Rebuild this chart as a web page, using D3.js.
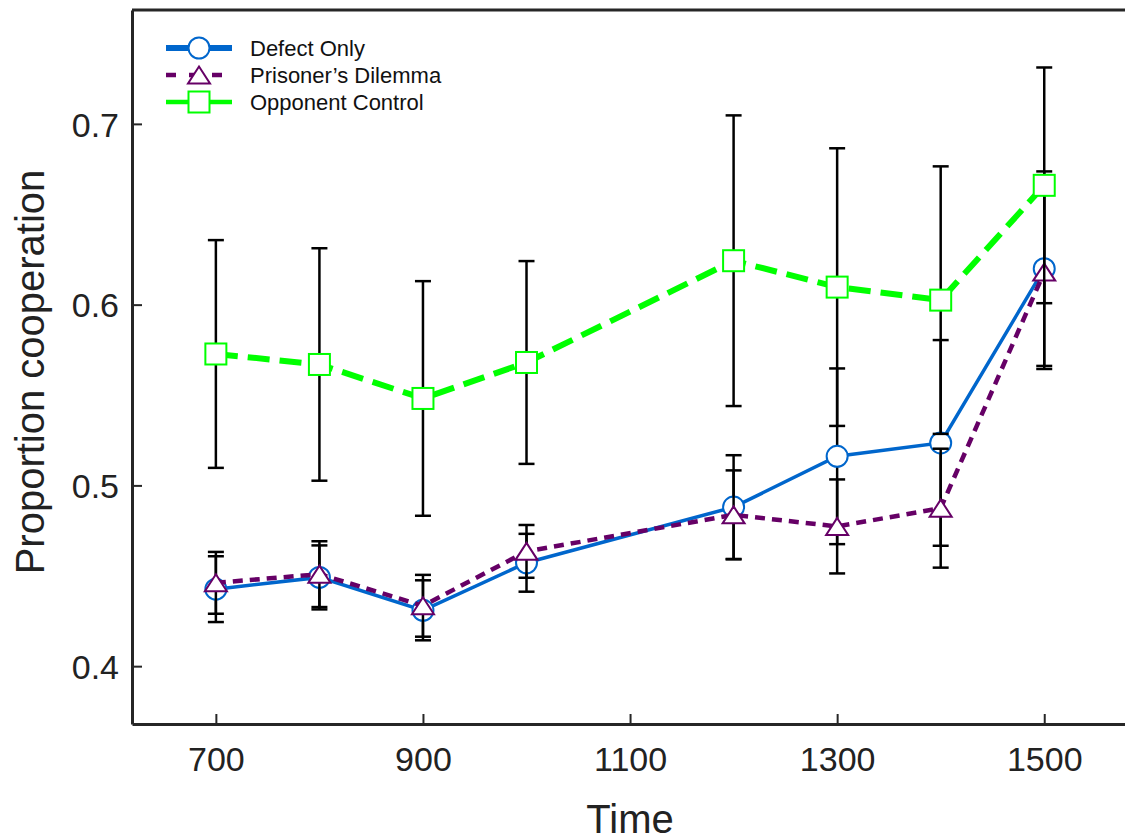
<!DOCTYPE html>
<html>
<head>
<meta charset="utf-8">
<script src="https://cdn.jsdelivr.net/npm/d3@7/dist/d3.min.js"></script>
<style>
  html, body { margin: 0; padding: 0; background: #fff; }
  svg { display: block; font-family: "Liberation Sans", Arial, sans-serif; }
</style>
</head>
<body>
<svg id="chart" width="1125" height="840"></svg>
<script>
// Time points (x) and tick labels
const times = [700, 800, 900, 1000, 1200, 1300, 1400, 1500];
const xTicks = [700, 900, 1100, 1300, 1500];
const yTicks = [0.4, 0.5, 0.6, 0.7];

// Mean proportion cooperation per condition, with error bar half-widths
const defectOnly = [0.4426, 0.4491, 0.4309, 0.4572, 0.4880, 0.5161, 0.5235, 0.6199];
const defectOnlyErr = [0.0182, 0.0177, 0.0166, 0.0160, 0.0287, 0.0486, 0.0569, 0.0538];

const prisonersDilemma = [0.4461, 0.4509, 0.4334, 0.4635, 0.4837, 0.4773, 0.4874, 0.6180];
const prisonersDilemmaErr = [0.0171, 0.0182, 0.0171, 0.0146, 0.0246, 0.0260, 0.0329, 0.0536];

const opponentControl = [0.5727, 0.5669, 0.5481, 0.5680, 0.6243, 0.6097, 0.6025, 0.6660];
const opponentControlErr = [0.0630, 0.0643, 0.0649, 0.0561, 0.0804, 0.0768, 0.0740, 0.0652];

const seriesNames = ["Defect Only", "Prisoner\u2019s Dilemma", "Opponent Control"];

const svg = d3.select("#chart");
const frame = { left: 132, right: 1125, top: 10, bottom: 724 };

const x = d3.scaleLinear().domain([619, 1578]).range([frame.left, frame.right]);
const y = d3.scaleLinear().domain([0.368, 0.763]).range([frame.bottom, frame.top]);

const axisColor = "#262626";

// Series styling
const series = [
  { name: seriesNames[0], values: defectOnly, err: defectOnlyErr, color: "#0066cc",
    width: 3.5, dash: null, marker: "circle", legendWidth: 6, legendDash: null },
  { name: seriesNames[1], values: prisonersDilemma, err: prisonersDilemmaErr, color: "#660066",
    width: 4.5, dash: "10,7", marker: "triangle", legendWidth: 4.5, legendDash: "10,13" },
  { name: seriesNames[2], values: opponentControl, err: opponentControlErr, color: "#00ff00",
    width: 6, dash: "22,10", marker: "square", legendWidth: 4.5, legendDash: null }
];

// Frame: top border
svg.append("line")
  .attr("x1", frame.left).attr("x2", frame.right)
  .attr("y1", frame.top).attr("y2", frame.top)
  .attr("stroke", axisColor).attr("stroke-width", 3);

// Axes with inward ticks
const xAxis = svg.append("g")
  .attr("transform", `translate(0,${frame.bottom})`)
  .call(d3.axisBottom(x).tickValues(xTicks).tickFormat(d3.format("d"))
    .tickSizeInner(-10).tickSizeOuter(0).tickPadding(23));
const yAxis = svg.append("g")
  .attr("transform", `translate(${frame.left},0)`)
  .call(d3.axisLeft(y).tickValues(yTicks).tickFormat(d3.format(".1f"))
    .tickSizeInner(-10).tickSizeOuter(0).tickPadding(13));

[xAxis, yAxis].forEach(g => {
  g.select(".domain").attr("stroke", axisColor).attr("stroke-width", 3);
  g.selectAll(".tick line").attr("stroke", axisColor).attr("stroke-width", 2);
  g.selectAll(".tick text").attr("fill", "#222").attr("font-size", 34)
    .attr("font-family", "\"Liberation Sans\", Arial, sans-serif");
});
yAxis.selectAll(".tick text").attr("dy", "0.36em");

// Axis titles
svg.append("text")
  .attr("x", (x(1100))).attr("y", 833)
  .attr("text-anchor", "middle").attr("font-size", 40).attr("fill", "#222")
  .text("Time");
svg.append("text")
  .attr("transform", `translate(44,${372}) rotate(-90)`)
  .attr("text-anchor", "middle").attr("font-size", 40).attr("fill", "#222")
  .text("Proportion cooperation");

// Marker shapes
function drawMarker(g, kind, cx, cy, color) {
  if (kind === "circle") {
    g.append("circle").attr("cx", cx).attr("cy", cy).attr("r", 10.5)
      .attr("fill", "#fff").attr("stroke", color).attr("stroke-width", 2);
  } else if (kind === "square") {
    g.append("rect").attr("x", cx - 10.5).attr("y", cy - 10.5)
      .attr("width", 21).attr("height", 21)
      .attr("fill", "#fff").attr("stroke", color).attr("stroke-width", 2);
  } else {
    const w = 11, h = 8.5;
    g.append("path")
      .attr("d", `M${cx},${cy - h}L${cx + w},${cy + h}L${cx - w},${cy + h}Z`)
      .attr("fill", "#fff").attr("stroke", color).attr("stroke-width", 2);
  }
}

const line = d3.line().x((d, i) => x(times[i])).y(d => y(d));
const capHalf = 8;

series.forEach(s => {
  const g = svg.append("g");
  // error bars
  s.values.forEach((v, i) => {
    const cx = x(times[i]);
    const lo = y(v - s.err[i]), hi = y(v + s.err[i]);
    g.append("line").attr("x1", cx).attr("x2", cx).attr("y1", lo).attr("y2", hi)
      .attr("stroke", "#000").attr("stroke-width", 2.5);
    [lo, hi].forEach(yy => g.append("line")
      .attr("x1", cx - capHalf).attr("x2", cx + capHalf).attr("y1", yy).attr("y2", yy)
      .attr("stroke", "#000").attr("stroke-width", 2.5));
  });
  // connecting line
  g.append("path").datum(s.values).attr("d", line)
    .attr("fill", "none").attr("stroke", s.color).attr("stroke-width", s.width)
    .attr("stroke-dasharray", s.dash);
  // markers
  s.values.forEach((v, i) => drawMarker(g, s.marker, x(times[i]), y(v), s.color));
});

// Legend
const legend = svg.append("g");
series.forEach((s, i) => {
  const ly = 48 + i * 27;
  legend.append("line").attr("x1", 166).attr("x2", 232).attr("y1", ly).attr("y2", ly)
    .attr("stroke", s.color).attr("stroke-width", s.legendWidth)
    .attr("stroke-dasharray", s.legendDash);
  drawMarker(legend, s.marker, 199, ly, s.color);
  legend.append("text").attr("x", 250).attr("y", ly).attr("dy", "0.36em")
    .attr("font-size", 22).attr("fill", "#111").text(s.name);
});
</script>
</body>
</html>
